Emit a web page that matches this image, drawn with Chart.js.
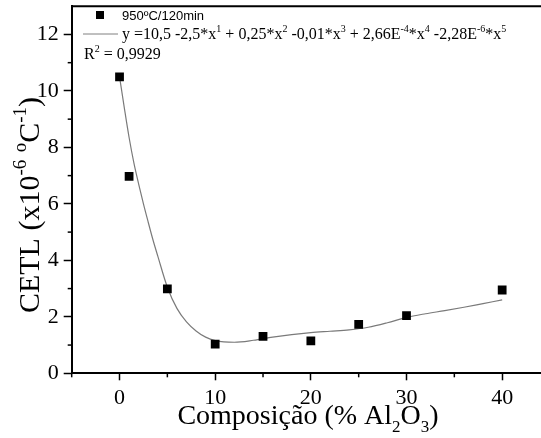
<!DOCTYPE html>
<html>
<head>
<meta charset="utf-8">
<script src="https://cdn.jsdelivr.net/npm/chart.js@4/dist/chart.umd.min.js"></script>
<style>
  html, body { margin: 0; padding: 0; background: #fff; overflow: hidden; }
  #wrap { width: 560px; height: 438px; position: relative; }
</style>
</head>
<body>
<div id="wrap"><canvas id="c"></canvas></div>
<script>
// measured points (% Al2O3 vs CETL)
const compX = [0, 1, 5, 10, 15, 20, 25, 30, 40];
const cetl = [10.5, 6.97, 2.99, 1.03, 1.31, 1.15, 1.73, 2.04, 2.95];

// fit curve
const fitX = [0, 0.5, 1, 1.5, 2, 2.5, 3, 3.5, 4, 5, 6, 7, 8, 9, 10, 12, 14, 16, 18, 20, 22, 24, 26, 28, 30, 32, 34, 36, 38, 40];
const fitY = [10.5, 9.4, 8.35, 7.45, 6.7, 6.0, 5.35, 4.72, 4.15, 3.05, 2.3, 1.82, 1.5, 1.28, 1.16, 1.1, 1.17, 1.28, 1.37, 1.44, 1.49, 1.54, 1.63, 1.79, 1.98, 2.11, 2.22, 2.34, 2.47, 2.6];

const xMin = -5, xMax = 45;
const yMin = 0, yMax = 13;
const xLabels = [0, 10, 20, 30, 40];
const yLabels = [0, 2, 4, 6, 8, 10, 12];

const serif = '"Liberation Serif", "Times New Roman", serif';
const sans = '"Liberation Sans", Arial, sans-serif';

// draws text runs with super/subscripts, returns width
function drawRich(ctx, parts, x, y, size, measureOnly) {
  let cx = x;
  parts.forEach(p => {
    const txt = p[0], kind = p[1] || 'n';
    let fs = size, dy = 0;
    if (kind === 'sup') { fs = Math.round(size * 0.62); dy = -size * 0.42; }
    if (kind === 'sub') { fs = Math.round(size * 0.62); dy = size * 0.3; }
    ctx.font = fs + 'px ' + serif;
    if (!measureOnly) ctx.fillText(txt, cx, y + dy);
    cx += ctx.measureText(txt).width;
  });
  return cx - x;
}

const decor = {
  id: 'decor',
  afterDraw(chart) {
    const ctx = chart.ctx;
    const a = chart.chartArea;
    const xs = chart.scales.x, ys = chart.scales.y;
    ctx.save();
    ctx.fillStyle = '#000';
    ctx.strokeStyle = '#000';

    // top frame line
    ctx.lineWidth = 2;
    ctx.beginPath();
    ctx.moveTo(a.left, a.top);
    ctx.lineTo(a.right, a.top);
    ctx.stroke();

    // minor ticks
    ctx.lineWidth = 1.5;
    for (let v = yMin + 1; v < yMax; v += 2) {
      const py = ys.getPixelForValue(v);
      ctx.beginPath();
      ctx.moveTo(a.left - 4, py);
      ctx.lineTo(a.left, py);
      ctx.stroke();
    }
    for (let v = xMin; v <= xMax; v += 10) {
      const px = xs.getPixelForValue(v);
      ctx.beginPath();
      ctx.moveTo(px, a.bottom);
      ctx.lineTo(px, a.bottom + 4);
      ctx.stroke();
    }

    // legend
    ctx.textBaseline = 'alphabetic';
    ctx.textAlign = 'left';
    ctx.fillRect(96, 11, 8, 8);
    ctx.font = '13px ' + sans;
    ctx.fillText('950ºC/120min', 122, 20);

    ctx.strokeStyle = '#808080';
    ctx.lineWidth = 1;
    ctx.beginPath();
    ctx.moveTo(83, 34);
    ctx.lineTo(118, 34);
    ctx.stroke();

    drawRich(ctx, [
      ['y =10,5 -2,5*x'], ['1', 'sup'], [' + 0,25*x'], ['2', 'sup'],
      [' -0,01*x'], ['3', 'sup'], [' + 2,66E'], ['-4', 'sup'], ['*x'], ['4', 'sup'],
      [' -2,28E'], ['-6', 'sup'], ['*x'], ['5', 'sup']
    ], 122, 39, 16);
    drawRich(ctx, [['R'], ['2', 'sup'], [' = 0,9929']], 84, 59, 16);

    // x axis title
    const xt = [['Composição (% Al'], ['2', 'sub'], ['O'], ['3', 'sub'], [')']];
    const wx = drawRich(ctx, xt, 0, 0, 28, true);
    drawRich(ctx, xt, 308 - wx / 2, 424, 28);

    // y axis title
    const yt = [['CETL (x10'], ['-6', 'sup'], [' '], ['o', 'sup'], ['C'], ['-1', 'sup'], [')']];
    const wy = drawRich(ctx, yt, 0, 0, 30, true);
    ctx.translate(39, 205);
    ctx.rotate(-Math.PI / 2);
    drawRich(ctx, yt, -wy / 2, 0, 30);

    ctx.restore();
  }
};

new Chart(document.getElementById('c'), {
  type: 'scatter',
  data: {
    datasets: [
      {
        label: '950ºC/120min',
        data: compX.map((x, i) => ({ x: x, y: cetl[i] })),
        pointStyle: 'rect',
        pointRadius: 6.2,
        pointHoverRadius: 6.2,
        backgroundColor: '#000',
        borderColor: '#000',
        borderWidth: 0,
        order: 1
      },
      {
        label: 'fit',
        type: 'line',
        data: fitX.map((x, i) => ({ x: x, y: fitY[i] })),
        borderColor: '#7a7a7a',
        borderWidth: 1.2,
        pointRadius: 0,
        cubicInterpolationMode: 'monotone',
        fill: false,
        order: 2
      }
    ]
  },
  options: {
    responsive: true,
    maintainAspectRatio: false,
    animation: false,
    events: [],
    layout: { padding: { top: 5, right: 10, left: 0, bottom: 0 } },
    plugins: { legend: { display: false }, tooltip: { enabled: false } },
    scales: {
      x: {
        type: 'linear',
        min: xMin,
        max: xMax,
        afterFit(s) { s.height = 64.7; s.paddingLeft = 0; s.paddingRight = 0; },
        afterBuildTicks(s) {
          const t = [];
          for (let v = xMin; v <= xMax; v += 5) t.push({ value: v });
          s.ticks = t;
        },
        ticks: {
          autoSkip: false,
          maxRotation: 0,
          padding: 5,
          color: '#000',
          font: { family: serif, size: 22 },
          callback: v => xLabels.includes(v) ? String(v) : ''
        },
        grid: {
          drawOnChartArea: false,
          tickLength: 7,
          tickWidth: 1.5,
          tickColor: c => (c.tick && xLabels.includes(c.tick.value)) ? '#000' : 'rgba(0,0,0,0)'
        },
        border: { display: true, color: '#000', width: 2 }
      },
      y: {
        min: yMin,
        max: yMax,
        afterFit(s) { s.width = 71.7; s.paddingTop = 0; s.paddingBottom = 0; },
        afterBuildTicks(s) {
          const t = [];
          for (let v = yMin; v <= yMax; v += 1) t.push({ value: v });
          s.ticks = t;
        },
        ticks: {
          autoSkip: false,
          padding: 5,
          color: '#000',
          font: { family: serif, size: 22 },
          callback: v => yLabels.includes(v) ? String(v) : ''
        },
        grid: {
          drawOnChartArea: false,
          tickLength: 8,
          tickWidth: 1.5,
          tickColor: c => (c.tick && yLabels.includes(c.tick.value)) ? '#000' : 'rgba(0,0,0,0)'
        },
        border: { display: true, color: '#000', width: 2 }
      }
    }
  },
  plugins: [decor]
});
</script>
</body>
</html>
